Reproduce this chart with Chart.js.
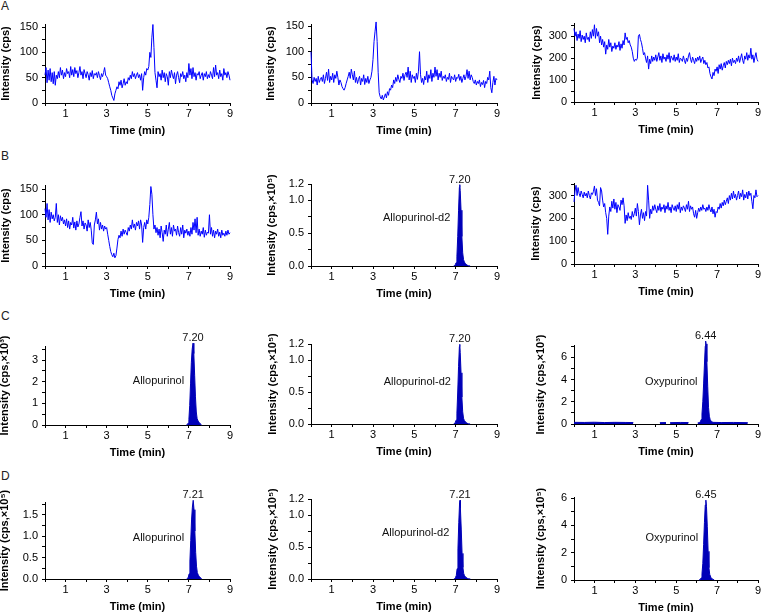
<!DOCTYPE html>
<html lang="en">
<head>
<meta charset="UTF-8">
<title>Allopurinol / Oxypurinol chromatograms</title>
<script src="https://cdn.jsdelivr.net/npm/chart.js"></script>
<style>
  body { margin: 0; background: #fff; font-family: 'Liberation Sans', Arial, sans-serif; }
  #wrap { position: relative; width: 766px; height: 612px; overflow: hidden; }
  canvas { position: absolute; }
  .tag { position: absolute; font-size: 12px; line-height: 12px; color: #222; }
</style>
</head>
<body>
<div id="wrap">
  <div class="tag" style="left:1px;top:0px">A</div>
  <div class="tag" style="left:1px;top:150px">B</div>
  <div class="tag" style="left:1px;top:310px">C</div>
  <div class="tag" style="left:1px;top:470px">D</div>
</div>
<script>
  // sampling times (min) for the noisy blank traces
  const TIME = [
    0.00,0.05,0.10,0.15,0.20,0.25,0.30,0.35,0.40,0.45,
    0.50,0.55,0.60,0.65,0.70,0.75,0.80,0.85,0.90,0.95,
    1.00,1.05,1.10,1.15,1.20,1.25,1.30,1.35,1.40,1.45,
    1.50,1.55,1.60,1.65,1.70,1.75,1.80,1.85,1.90,1.95,
    2.00,2.05,2.10,2.15,2.20,2.25,2.30,2.35,2.40,2.45,
    2.50,2.55,2.60,2.65,2.70,2.75,2.80,2.85,2.90,2.95,
    3.00,3.05,3.10,3.15,3.20,3.25,3.30,3.35,3.40,3.45,
    3.50,3.55,3.60,3.65,3.70,3.75,3.80,3.85,3.90,3.95,
    4.00,4.05,4.10,4.15,4.20,4.25,4.30,4.35,4.40,4.45,
    4.50,4.55,4.60,4.65,4.70,4.75,4.80,4.85,4.90,4.95,
    5.00,5.05,5.10,5.15,5.20,5.25,5.30,5.35,5.40,5.45,
    5.50,5.55,5.60,5.65,5.70,5.75,5.80,5.85,5.90,5.95,
    6.00,6.05,6.10,6.15,6.20,6.25,6.30,6.35,6.40,6.45,
    6.50,6.55,6.60,6.65,6.70,6.75,6.80,6.85,6.90,6.95,
    7.00,7.05,7.10,7.15,7.20,7.25,7.30,7.35,7.40,7.45,
    7.50,7.55,7.60,7.65,7.70,7.75,7.80,7.85,7.90,7.95,
    8.00,8.05,8.10,8.15,8.20,8.25,8.30,8.35,8.40,8.45,
    8.50,8.55,8.60,8.65,8.70,8.75,8.80,8.85,8.90,8.95,
    9.00
  ];

  // blank traces, cps
  const A1_Y = [
    55,70,40,65,45,68,42,60,38,62, 35,55,48,62,50,70,55,65,48,60,
    52,68,58,62,50,72,55,66,52,70, 58,64,50,60,72,55,62,48,66,58,
    50,62,56,45,60,52,64,48,58,55, 60,50,62,54,46,58,52,60,70,55,
    52,48,40,32,25,15,10,5,18,25, 32,28,42,35,45,30,38,48,35,42,
    38,50,45,55,48,62,52,58,48,55, 60,50,56,45,58,25,50,62,55,68,
    65,72,100,90,130,155,110,60,45,30, 62,52,58,45,65,50,60,42,58,52,
    35,62,50,65,55,48,60,38,55,62, 50,40,58,52,62,48,55,42,60,50,
    78,55,68,48,70,52,60,45,58,55, 62,48,55,60,45,58,52,62,48,56,
    50,62,55,48,70,52,75,55,60,48, 65,52,58,45,68,55,60,50,62,55,
    45
  ];
  const A2_Y = [
    100,45,38,50,42,48,35,52,40,46, 50,42,55,38,48,60,44,66,40,52,
    45,58,40,55,48,62,50,35,45,40, 32,28,25,30,38,45,52,60,48,66,
    55,45,62,40,50,38,46,52,35,48, 42,55,36,48,40,52,38,45,50,62,
    85,120,140,158,120,60,20,12,8,15, 6,12,18,10,22,15,28,25,35,30,
    45,38,50,42,55,46,40,52,48,58, 44,55,60,50,70,45,62,40,55,48,
    52,40,58,46,62,100,55,40,48,36, 52,45,62,40,55,48,65,42,58,50,
    70,52,65,45,58,50,62,44,52,48, 55,42,50,46,58,40,52,48,45,55,
    42,50,48,56,44,52,40,48,55,45, 52,65,48,62,45,55,50,42,38,45,
    35,42,38,45,32,40,36,44,30,42, 38,50,45,62,30,20,40,52,35,48,
    45
  ];
  const A3_Y = [
    335,300,320,280,310,290,325,275,305,285, 300,270,315,285,295,275,320,290,330,300,
    352,290,335,300,320,270,300,260,285,250, 275,218,260,240,285,250,270,230,255,245,
    270,240,260,250,275,235,265,245,280,260, 315,285,295,270,280,260,250,230,200,185,
    195,190,200,300,308,285,270,245,215,225, 200,180,210,150,195,175,210,185,205,190,
    215,185,205,225,190,210,180,220,195,205, 185,215,195,225,180,210,200,190,215,185,
    205,190,220,180,200,195,185,210,190,175, 200,185,210,225,195,180,205,190,175,200,
    185,205,190,210,180,195,205,175,190,170, 180,155,160,130,115,105,135,120,150,140,
    160,130,170,150,175,145,165,180,155,185, 170,190,175,195,165,200,180,190,175,200,
    185,210,180,200,220,190,175,210,195,225, 190,215,200,245,195,215,180,205,225,195,
    185
  ];
  const B1_Y = [
    112,95,122,90,110,85,105,92,100,88, 95,122,85,100,80,98,88,95,82,90,
    78,92,75,88,72,85,80,95,74,86, 70,88,76,82,95,106,78,88,72,84,
    80,68,90,75,85,70,45,42,80,90, 105,82,92,70,85,72,80,68,78,72,
    75,62,50,38,28,22,18,25,16,20, 35,52,60,55,68,58,72,62,70,65,
    60,75,68,80,72,90,75,82,70,85, 78,88,72,90,80,46,75,85,72,90,
    82,95,120,155,140,100,72,80,65,75, 60,72,55,78,65,48,70,62,80,58,
    72,85,62,75,58,80,68,72,60,78, 65,58,75,62,80,55,70,64,72,60,
    68,58,75,62,85,70,92,65,95,60, 72,58,68,62,75,56,70,60,66,64,
    100,62,75,58,70,55,68,62,72,58, 66,55,70,60,64,58,68,60,70,62,
    65
  ];
  const B3_Y = [
    272,320,345,300,335,310,295,320,305,290, 315,298,310,290,320,300,285,312,305,318,
    342,300,330,280,270,255,335,320,280,250, 265,225,200,130,210,250,230,275,245,285,
    240,270,225,260,250,235,280,260,290,255, 178,215,190,225,200,210,195,230,205,220,
    245,210,265,230,172,215,240,200,225,190, 230,210,345,280,200,240,220,255,235,260,
    240,225,255,235,265,230,250,240,260,225, 255,240,270,235,250,225,260,245,235,255,
    230,260,240,270,225,250,235,255,245,230, 260,240,275,230,255,240,250,220,205,235,
    200,225,245,230,250,235,260,240,245,230, 250,235,260,240,228,250,220,240,205,230,
    225,250,240,265,245,270,255,280,260,275, 290,265,300,280,310,285,320,290,305,280,
    300,320,285,310,295,325,280,305,290,315, 285,320,300,310,275,242,300,290,325,295,
    300
  ];

  // analyte / IS peaks (scaled units given in the axis title)
  const B2_T = [6.90,6.94,6.98,7.02,7.06,7.10,7.14,7.18,7.20,7.22,7.26,7.30,7.34,7.38,7.42,7.48,7.54,7.62,7.70];
  const B2_Y = [0,0.005,0.02,0.05,0.15,0.45,0.85,1.20,1.24,1.15,0.85,0.45,0.20,0.10,0.06,0.035,0.015,0.004,0];
  const C1_T = [6.88,6.92,6.96,7.00,7.04,7.08,7.12,7.16,7.20,7.24,7.28,7.32,7.36,7.40,7.45,7.50,7.56,7.62];
  const C1_Y = [0,0.03,0.08,0.25,0.9,1.9,2.9,3.5,3.78,3.3,2.3,1.3,0.6,0.3,0.18,0.12,0.05,0];
  const C2_T = [6.90,6.94,6.98,7.02,7.06,7.10,7.14,7.18,7.20,7.22,7.26,7.30,7.34,7.38,7.42,7.48,7.55,7.62,7.70];
  const C2_Y = [0,0.006,0.025,0.06,0.17,0.5,0.9,1.21,1.245,1.12,0.8,0.42,0.19,0.09,0.055,0.03,0.012,0.003,0];
  const C3_T = [0.0,0.5,1.0,1.5,2.0,2.5,2.9,2.95,4.2,4.5,4.55,4.7,5.2,5.6,5.65,6.05,6.12,6.18,6.22,6.26,6.30,6.34,6.38,6.42,6.44,6.46,6.50,6.54,6.58,6.62,6.66,6.72,6.80,7.2,7.8,8.5,8.55];
  const C3_Y = [0.15,0.14,0.16,0.13,0.15,0.14,0.13,null,0.12,0.13,null,0.12,0.14,0.13,null,0.1,0.12,0.2,0.4,0.9,2.0,3.6,5.3,7.0,7.45,7.2,5.6,3.4,1.5,0.7,0.4,0.22,0.15,0.13,0.14,0.12,null];
  const D1_T = [6.89,6.93,6.97,7.01,7.05,7.09,7.13,7.17,7.21,7.25,7.29,7.33,7.37,7.41,7.46,7.51,7.57,7.63];
  const D1_Y = [0,0.015,0.04,0.12,0.42,0.9,1.38,1.68,1.84,1.62,1.12,0.62,0.3,0.15,0.09,0.06,0.025,0];
  const D2_T = [6.91,6.95,6.99,7.03,7.07,7.11,7.15,7.19,7.21,7.23,7.27,7.31,7.35,7.39,7.43,7.49,7.56,7.63,7.71];
  const D2_Y = [0,0.005,0.022,0.055,0.16,0.47,0.88,1.19,1.23,1.10,0.78,0.40,0.18,0.085,0.05,0.028,0.011,0.003,0];
  const D3_T = [6.12,6.18,6.22,6.26,6.30,6.34,6.38,6.42,6.45,6.48,6.52,6.56,6.60,6.64,6.70,6.78,6.86];
  const D3_Y = [0,0.05,0.15,0.45,1.2,2.6,4.2,5.5,5.85,5.4,3.9,2.1,0.9,0.4,0.18,0.06,0];

  // axis ticks
  const X_TICKS = [0,1,2,3,4,5,6,7,8,9];
  const X_LABELS = ['','1','','3','','5','','7','','9'];
  const Y150_TICKS = [0,25,50,75,100,125,150];
  const Y150_LABELS = ['0','','50','','100','','150'];
  const Y300_TICKS = [0,50,100,150,200,250,300,350];
  const Y300_LABELS = ['0','','100','','200','','300',''];
  const Y12_TICKS = [0,0.25,0.5,0.75,1.0,1.25];
  const Y12_LABELS = ['0.0','','0.5','','1.0','1.2'];
  const Y3_TICKS = [0,0.5,1,1.5,2,2.5,3,3.5];
  const Y3_LABELS = ['0','','1','','2','','3',''];
  const Y7_TICKS = [0,1,2,3,4,5,6,7];
  const Y7_LABELS = ['0','','2','','4','','6',''];
  const Y18_TICKS = [0,0.25,0.5,0.75,1.0,1.25,1.5,1.75];
  const Y18_LABELS = ['0.0','','0.5','','1.0','','1.5',''];
  const Y6_TICKS = [0,1,2,3,4,5,6];
  const Y6_LABELS = ['0','','2','','4','','6'];

  const T_CPS = 'Intensity (cps)';
  const T_E5 = 'Intensity (cps,\u00d710\u2075)';
  const T_E3 = 'Intensity (cps,\u00d710\u00b3)';

  const NOISE = '#0000ff';
  const PEAK = '#0000b8';

  Chart.defaults.font.family = "'Liberation Sans', Arial, sans-serif";
  Chart.defaults.font.size = 11;
  Chart.defaults.color = '#000';

  // box = plot area [left, top, right, bottom] in page pixels
  const panels = [
    { box:[45,24,230,103],  titleX:6,   title:T_CPS, yMax:156, yt:Y150_TICKS, yl:Y150_LABELS, noise:A1_Y },
    { box:[311,24,497,103], titleX:271, title:T_CPS, yMax:154, yt:Y150_TICKS, yl:Y150_LABELS, noise:A2_Y },
    { box:[574,23,758,102], titleX:537, title:T_CPS, yMax:360, yt:Y300_TICKS, yl:Y300_LABELS, noise:A3_Y },
    { box:[45,185,230,266], titleX:6,   title:T_CPS, yMax:158, yt:Y150_TICKS, yl:Y150_LABELS, noise:B1_Y },
    { box:[311,184,497,266],titleX:272, title:T_E5,  yMax:1.25, yt:Y12_TICKS, yl:Y12_LABELS, pt:B2_T, py:B2_Y, rt:'7.20', name:'Allopurinol-d2', nameAt:[6.74,0.73] },
    { box:[574,183,758,264],titleX:536, title:T_CPS, yMax:355, yt:Y300_TICKS, yl:Y300_LABELS, noise:B3_Y },
    { box:[45,346,230,425], titleX:5,   title:T_E3,  yMax:3.65, yt:Y3_TICKS, yl:Y3_LABELS, pt:C1_T, py:C1_Y, rt:'7.20', name:'Allopurinol', nameAt:[6.77,2.03] },
    { box:[311,344,497,424],titleX:273, title:T_E5,  yMax:1.25, yt:Y12_TICKS, yl:Y12_LABELS, pt:C2_T, py:C2_Y, rt:'7.20', name:'Allopurinol-d2', nameAt:[6.77,0.66] },
    { box:[574,345,758,424],titleX:541, title:T_E3,  yMax:7.1, yt:Y7_TICKS, yl:Y7_LABELS, pt:C3_T, py:C3_Y, rt:'6.44', name:'Oxypurinol', nameAt:[6.04,3.76] },
    { box:[45,502,230,579], titleX:5,   title:T_E5,  yMax:1.8, yt:Y18_TICKS, yl:Y18_LABELS, pt:D1_T, py:D1_Y, rt:'7.21', name:'Allopurinol', nameAt:[6.77,0.97] },
    { box:[311,499,497,579],titleX:273, title:T_E5,  yMax:1.25, yt:Y12_TICKS, yl:Y12_LABELS, pt:D2_T, py:D2_Y, rt:'7.21', name:'Allopurinol-d2', nameAt:[6.69,0.72] },
    { box:[574,497,758,580],titleX:541, title:T_E5,  yMax:6.08, yt:Y6_TICKS, yl:Y6_LABELS, pt:D3_T, py:D3_Y, rt:'6.45', name:'Oxypurinol', nameAt:[6.07,3.05] }
  ];

  const YW = 50, XH = 40, PAD_T = 20, PAD_R = 8;
  const wrap = document.getElementById('wrap');

  function makePanel(p) {
    const [L, T, R, B] = p.box;
    const cv = document.createElement('canvas');
    cv.width = R - L + YW + PAD_R;
    cv.height = B - T + PAD_T + XH;
    cv.style.left = (L - YW) + 'px';
    cv.style.top = (T - PAD_T) + 'px';
    wrap.appendChild(cv);

    const datasets = [];
    if (p.noise) {
      datasets.push({
        data: TIME.map((t, i) => ({ x: t, y: p.noise[i] })),
        borderColor: NOISE, borderWidth: 1, pointRadius: 0, fill: false, clip: false
      });
    }
    if (p.pt) {
      datasets.push({
        data: p.pt.map((t, i) => ({ x: t, y: p.py[i] })),
        borderColor: PEAK, backgroundColor: PEAK, borderWidth: 1, pointRadius: 0,
        fill: 'origin', clip: false, spanGaps: false
      });
    }

    // retention time above the apex and compound name beside the peak
    const notes = {
      id: 'notes',
      afterDatasetsDraw(chart) {
        if (!p.pt) return;
        const ctx = chart.ctx, xs = chart.scales.x, ys = chart.scales.y;
        let k = 0;
        p.py.forEach((v, i) => { if (v !== null && v > p.py[k]) k = i; });
        ctx.save();
        ctx.fillStyle = '#111';
        ctx.font = "11px 'Liberation Sans', Arial, sans-serif";
        ctx.textAlign = 'center';
        ctx.textBaseline = 'alphabetic';
        ctx.fillText(p.rt, xs.getPixelForValue(p.pt[k]), ys.getPixelForValue(p.py[k]) - 2);
        ctx.textAlign = 'right';
        ctx.textBaseline = 'middle';
        ctx.fillText(p.name, xs.getPixelForValue(p.nameAt[0]), ys.getPixelForValue(p.nameAt[1]));
        ctx.restore();
      }
    };

    new Chart(cv, {
      type: 'line',
      data: { datasets },
      plugins: [notes],
      options: {
        responsive: false,
        animation: false,
        devicePixelRatio: 1,
        layout: { padding: { top: PAD_T, right: PAD_R, left: 0, bottom: 0 } },
        plugins: { legend: { display: false }, tooltip: { enabled: false } },
        scales: {
          x: {
            type: 'linear', min: 0, max: 9,
            afterBuildTicks: s => { s.ticks = X_TICKS.map(v => ({ value: v })); },
            afterFit: s => { s.height = XH; },
            ticks: { callback: (v, i) => X_LABELS[i], autoSkip: false, maxRotation: 0, padding: 1 },
            grid: { drawOnChartArea: false, tickLength: 3, color: '#000' },
            border: { color: '#000', width: 1 },
            title: { display: true, text: 'Time (min)', font: { size: 11, weight: 'bold' }, padding: { top: 0, bottom: 5.5 } }
          },
          y: {
            type: 'linear', min: 0, max: p.yMax,
            afterBuildTicks: s => { s.ticks = p.yt.map(v => ({ value: v })); },
            afterFit: s => { s.width = YW; },
            ticks: { callback: (v, i) => p.yl[i], autoSkip: false, padding: 4 },
            grid: { drawOnChartArea: false, tickLength: 3, color: '#000' },
            border: { color: '#000', width: 1 },
            title: {
              display: true, text: p.title, font: { size: 11, weight: 'bold' },
              padding: { top: p.titleX - (L - YW) - 6.6, bottom: 0 }
            }
          }
        }
      }
    });
  }

  panels.forEach(makePanel);
</script>
</body>
</html>
